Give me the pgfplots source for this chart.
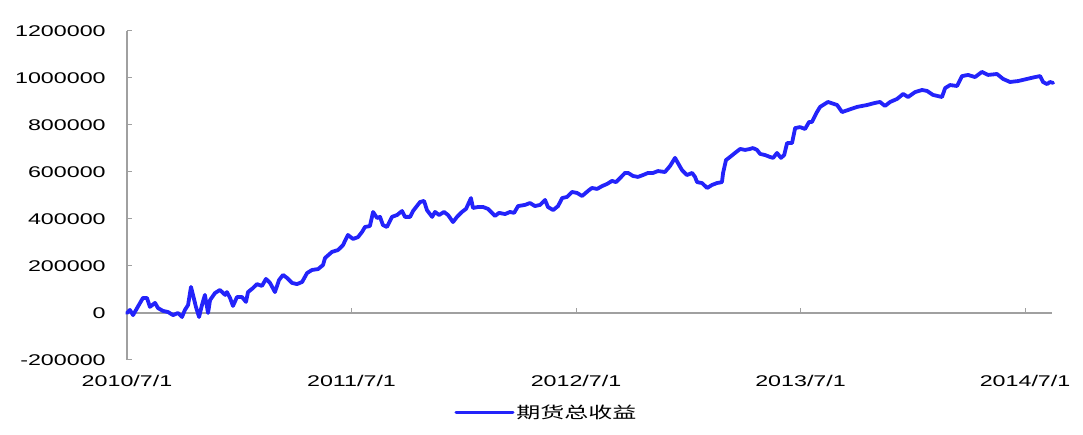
\documentclass[border=0pt]{standalone}
\usepackage{pgfplots}
\pgfplotsset{compat=1.18}
\usepackage{fontspec}
\setmainfont{Liberation Sans}[FakeStretch=1.5]
\newfontfamily\cjk{Noto Sans CJK SC}[FakeStretch=1.5]
\definecolor{lineblue}{RGB}{35,35,250}
\definecolor{axgray}{RGB}{160,160,160}
\pgfplotstableread{
x y
0.000 0
0.013 13000
0.027 -9000
0.045 21000
0.071 64000
0.089 64000
0.102 26000
0.125 43000
0.138 21000
0.160 9000
0.183 4000
0.205 -9000
0.227 0
0.245 -17000
0.258 13000
0.272 34000
0.285 111000
0.294 77000
0.307 26000
0.321 -17000
0.334 34000
0.347 77000
0.361 0
0.370 55000
0.392 85000
0.414 98000
0.437 77000
0.445 89000
0.459 64000
0.472 30000
0.490 68000
0.512 68000
0.530 47000
0.539 89000
0.561 106000
0.579 123000
0.601 115000
0.619 145000
0.637 128000
0.659 89000
0.677 140000
0.695 162000
0.713 149000
0.735 128000
0.757 123000
0.780 132000
0.802 170000
0.824 183000
0.851 187000
0.873 204000
0.882 234000
0.913 260000
0.940 268000
0.962 289000
0.984 332000
1.007 315000
1.029 323000
1.047 345000
1.060 366000
1.082 370000
1.096 430000
1.114 404000
1.127 409000
1.140 374000
1.158 366000
1.180 409000
1.203 417000
1.225 434000
1.238 409000
1.261 409000
1.274 434000
1.305 472000
1.323 477000
1.336 438000
1.359 409000
1.372 430000
1.390 417000
1.412 430000
1.430 417000
1.452 387000
1.470 409000
1.492 430000
1.510 443000
1.532 489000
1.541 447000
1.563 451000
1.586 451000
1.608 443000
1.639 413000
1.657 426000
1.684 421000
1.706 430000
1.724 426000
1.742 455000
1.773 460000
1.795 468000
1.817 455000
1.840 460000
1.862 481000
1.875 451000
1.898 438000
1.920 455000
1.938 489000
1.960 494000
1.982 515000
2.004 511000
2.027 498000
2.058 523000
2.071 532000
2.094 528000
2.116 540000
2.138 549000
2.160 562000
2.178 557000
2.196 574000
2.218 596000
2.232 596000
2.254 583000
2.276 579000
2.298 587000
2.321 596000
2.343 596000
2.365 604000
2.396 600000
2.419 626000
2.441 660000
2.454 638000
2.472 608000
2.494 587000
2.517 596000
2.530 579000
2.539 557000
2.561 553000
2.584 532000
2.606 545000
2.628 553000
2.650 557000
2.655 596000
2.668 651000
2.686 664000
2.708 681000
2.731 698000
2.753 694000
2.775 698000
2.788 702000
2.806 694000
2.820 677000
2.842 672000
2.864 664000
2.878 660000
2.895 681000
2.913 660000
2.927 672000
2.940 723000
2.962 723000
2.976 787000
2.998 791000
3.020 783000
3.038 813000
3.051 813000
3.073 855000
3.087 877000
3.122 898000
3.163 885000
3.185 855000
3.212 864000
3.252 877000
3.296 885000
3.332 894000
3.354 898000
3.376 881000
3.399 898000
3.430 911000
3.457 932000
3.479 919000
3.510 940000
3.541 949000
3.563 945000
3.590 928000
3.630 919000
3.644 957000
3.666 970000
3.697 966000
3.719 1008000
3.746 1013000
3.777 1004000
3.808 1026000
3.835 1013000
3.875 1017000
3.902 996000
3.933 983000
3.969 987000
4.009 996000
4.045 1004000
4.067 1008000
4.080 983000
4.098 974000
4.111 983000
4.125 979000
}\datatable
\begin{document}
\fontsize{15.5pt}{18pt}\selectfont
\begin{tikzpicture}
\path[use as bounding box] (-127pt,-75pt) rectangle (956pt,360pt);
\begin{axis}[
  scale only axis,
  width=925pt, height=329pt,
  xmin=0, xmax=4.12,
  ymin=-200000, ymax=1200000,
  clip=false,
  axis y line=left,
  axis x line=middle,
  axis line style={-, axgray, line width=1.2pt},
  hide obscured x ticks=false,
  hide obscured y ticks=false,
  tick align=inside,
  major tick length=5pt,
  tick style={axgray, line width=1pt},
  xtick={0,1,2,3,4},
  xticklabels={2010/7/1,2011/7/1,2012/7/1,2013/7/1,2014/7/1},
  xticklabel style={yshift=-57pt},
  ytick={-200000,0,200000,400000,600000,800000,1000000,1200000},
  scaled y ticks=false,
  yticklabel style={xshift=-16pt},
  /pgf/number format/fixed,
  /pgf/number format/1000 sep={},
  /pgf/number format/assume math mode=true,
  ticklabel style={font=\fontsize{15.5pt}{18pt}\selectfont},
  legend style={at={(0.4535,-0.161)}, anchor=center, draw=none,
    font=\cjk\fontsize{16pt}{18pt}\selectfont},
  legend image code/.code={\draw[#1, line width=3pt] (0pt,0pt) -- (57pt,0pt);},
]
\addplot[lineblue, line width=3.8pt, line join=round, line cap=round] table[x=x,y=y] {\datatable};
\addlegendentry{期货总收益}
\end{axis}
\end{tikzpicture}
\end{document}
